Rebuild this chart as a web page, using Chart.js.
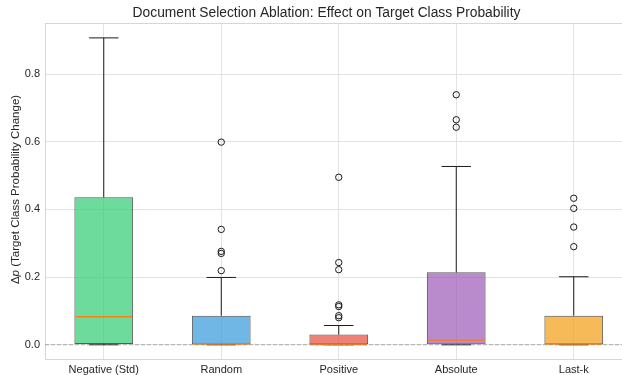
<!DOCTYPE html>
<html>
<head>
<meta charset="utf-8">
<script src="https://cdn.jsdelivr.net/npm/chart.js@4"></script>
<style>
  html, body { margin: 0; padding: 0; background: #ffffff; overflow: hidden; }
  #wrap { width: 622px; height: 375px; overflow: hidden; }
</style>
</head>
<body>
<div id="wrap"><canvas id="c" width="633" height="375"></canvas></div>
<script>
// Document selection strategies compared
const categories = ['Negative (Std)', 'Random', 'Positive', 'Absolute', 'Last-k'];

// Box statistics of the change in target-class probability
const whiskerLow  = [0.000, 0.000, 0.000, 0.000, 0.000];
const quartile1   = [0.002, 0.000, 0.000, 0.000, 0.000];
const medians     = [0.083, 0.002, 0.001, 0.014, 0.002];
const quartile3   = [0.436, 0.086, 0.030, 0.214, 0.086];
const whiskerHigh = [0.907, 0.199, 0.057, 0.527, 0.201];

// Points beyond the whiskers
const outliers = [
  [],
  [0.599, 0.341, 0.276, 0.270, 0.219],
  [0.495, 0.243, 0.222, 0.118, 0.113, 0.086, 0.080],
  [0.739, 0.665, 0.643],
  [0.433, 0.403, 0.348, 0.290]
];

const yTicks = [0.0, 0.2, 0.4, 0.6, 0.8];

const titleText = 'Document Selection Ablation: Effect on Target Class Probability';

const boxColors = [
  'rgba(46,204,113,0.7)',
  'rgba(52,152,219,0.7)',
  'rgba(231,76,60,0.7)',
  'rgba(155,89,182,0.7)',
  'rgba(243,156,18,0.7)'
];

const outlierPoints = [];
outliers.forEach((vals, i) => vals.forEach(v => outlierPoints.push({ x: categories[i], y: v })));

const FONT = "'Liberation Sans', Arial, sans-serif";
const TEXT = '#262626';

// Whiskers, caps, medians and the zero reference line
const boxParts = {
  id: 'boxParts',
  afterDatasetsDraw(chart) {
    const ctx = chart.ctx;
    const xs = chart.scales.x, ys = chart.scales.y;
    const bars = chart.getDatasetMeta(0).data;
    ctx.save();
    categories.forEach((c, i) => {
      const x = xs.getPixelForValue(i);
      const half = bars[i].width / 2;
      const capHalf = half / 2;
      const yq1 = ys.getPixelForValue(quartile1[i]);
      const yq3 = ys.getPixelForValue(quartile3[i]);
      const ylo = ys.getPixelForValue(whiskerLow[i]);
      const yhi = ys.getPixelForValue(whiskerHigh[i]);
      ctx.strokeStyle = '#1a1a1a';
      ctx.lineWidth = 1;
      ctx.beginPath();
      ctx.moveTo(x, yq3); ctx.lineTo(x, yhi);
      ctx.moveTo(x, yq1); ctx.lineTo(x, ylo);
      ctx.moveTo(x - capHalf, yhi); ctx.lineTo(x + capHalf, yhi);
      ctx.moveTo(x - capHalf, ylo); ctx.lineTo(x + capHalf, ylo);
      ctx.stroke();
      const ym = ys.getPixelForValue(medians[i]);
      ctx.strokeStyle = '#ff7f0e';
      ctx.lineWidth = 1.5;
      ctx.beginPath();
      ctx.moveTo(x - half + 1, ym); ctx.lineTo(x + half - 1, ym);
      ctx.stroke();
    });
    // dashed zero line
    const y0 = ys.getPixelForValue(0);
    ctx.strokeStyle = 'rgba(128,128,128,0.6)';
    ctx.lineWidth = 1;
    ctx.setLineDash([4, 2]);
    ctx.beginPath();
    ctx.moveTo(chart.chartArea.left, y0);
    ctx.lineTo(chart.chartArea.right, y0);
    ctx.stroke();
    ctx.restore();
  }
};

// Frame around the plot area, the title, and the y-axis title with an italic p
const frameAndLabel = {
  id: 'frameAndLabel',
  beforeDatasetsDraw(chart) {
    const { ctx, chartArea: a } = chart;
    ctx.save();
    ctx.strokeStyle = '#d6d6d6';
    ctx.lineWidth = 1;
    ctx.strokeRect(a.left + 0.5, a.top + 0.5, a.right - a.left - 1, a.bottom - a.top - 1);
    ctx.restore();
  },
  afterDraw(chart) {
    const { ctx, chartArea: a } = chart;
    ctx.save();
    ctx.fillStyle = TEXT;
    ctx.font = '13.8px ' + FONT;
    ctx.textAlign = 'center';
    ctx.textBaseline = 'middle';
    ctx.fillText(titleText, 326.5, 13);
    ctx.restore();

    const parts = [
      { t: 'Δ', f: '11.5px ' + FONT },
      { t: 'p', f: 'italic 11.5px ' + FONT },
      { t: ' (Target Class Probability Change)', f: '11.5px ' + FONT }
    ];
    ctx.save();
    let total = 0;
    parts.forEach(p => { ctx.font = p.f; p.w = ctx.measureText(p.t).width; total += p.w; });
    ctx.translate(16, (a.top + a.bottom) / 2 - 2);
    ctx.rotate(-Math.PI / 2);
    ctx.fillStyle = TEXT;
    ctx.textBaseline = 'middle';
    ctx.textAlign = 'left';
    let x = -total / 2;
    parts.forEach(p => { ctx.font = p.f; ctx.fillText(p.t, x, 0); x += p.w; });
    ctx.restore();
  }
};

new Chart(document.getElementById('c'), {
  type: 'bar',
  data: {
    labels: categories,
    datasets: [
      {
        type: 'bar',
        data: categories.map((c, i) => [quartile1[i], quartile3[i]]),
        backgroundColor: boxColors,
        borderColor: 'rgba(0,0,0,0.65)',
        borderWidth: 1,
        borderSkipped: false,
        barPercentage: 0.5,
        categoryPercentage: 1.0,
        order: 2
      },
      {
        type: 'scatter',
        data: outlierPoints,
        pointStyle: 'circle',
        pointRadius: 3.2,
        pointBorderWidth: 1,
        pointBorderColor: '#1a1a1a',
        pointBackgroundColor: 'rgba(0,0,0,0)',
        order: 1
      }
    ]
  },
  options: {
    responsive: false,
    animation: false,
    layout: { autoPadding: false, padding: { left: 0, right: 0.5, top: 23, bottom: 0 } },
    plugins: {
      legend: { display: false },
      tooltip: { enabled: false },
      title: { display: false }
    },
    scales: {
      x: {
        type: 'category',
        offset: true,
        grid: { color: '#e3e3e3', offset: false, drawTicks: false },
        border: { display: false },
        ticks: { color: TEXT, font: { family: FONT, size: 11 }, padding: 3 },
        afterFit: s => { s.height = 15; }
      },
      y: {
        min: -0.045,
        max: 0.951,
        grid: { color: '#e3e3e3', drawTicks: false },
        border: { display: false },
        ticks: {
          color: TEXT,
          font: { family: FONT, size: 11 },
          padding: 5,
          callback: v => Number(v).toFixed(1)
        },
        afterBuildTicks: s => { s.ticks = yTicks.map(v => ({ value: v })); },
        afterFit: s => { s.width = 45; }
      }
    }
  },
  plugins: [frameAndLabel, boxParts]
});
</script>
</body>
</html>
